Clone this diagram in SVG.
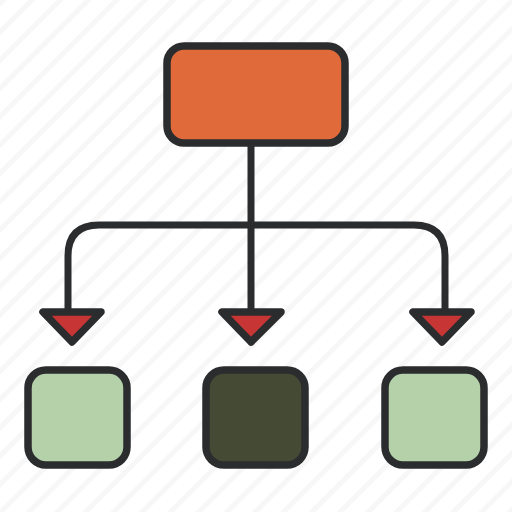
<svg xmlns="http://www.w3.org/2000/svg" width="512" height="512" viewBox="0 0 512 512">
<defs>
<pattern id="hatch" width="20" height="20" patternUnits="userSpaceOnUse" patternTransform="rotate(-45)">
<rect x="0" y="0" width="20" height="5" fill="#f7f7f7"/>
</pattern>
<style>
.ol{stroke:#2b2c2e;stroke-width:7.5;stroke-linejoin:round;stroke-linecap:round}
.ln{fill:none;stroke:#2b2c2e;stroke-width:7;stroke-linecap:round;stroke-linejoin:round}
.arr{fill:#c83535}
</style>
</defs>
<rect width="512" height="512" fill="#ffffff"/>
<rect width="512" height="512" fill="url(#hatch)"/>
<g id="connectors">
<path class="ln" d="M251 146 V316"/>
<path class="ln" d="M68 316 V256 Q68 225 99 225 H414 Q445 225 445 256 V316"/>
<path class="ol arr" d="M43 312 L101 312 L72 342 Z"/>
<path class="ol arr" d="M222 312 L281 312 L251 342 Z"/>
<path class="ol arr" d="M413 312 L471 312 L442 342 Z"/>
</g>
<g id="root">
<rect class="ol" x="167" y="46" width="178" height="97" rx="17" fill="#e06a3a"/>
</g>
<g id="child1">
<rect class="ol" x="28" y="370" width="99" height="95" rx="18" fill="#b4d1aa"/>
</g>
<g id="child2">
<rect class="ol" x="206" y="370" width="99" height="95" rx="18" fill="#454a34"/>
</g>
<g id="child3">
<rect class="ol" x="385" y="370" width="99" height="95" rx="18" fill="#b4d1aa"/>
</g>
</svg>
